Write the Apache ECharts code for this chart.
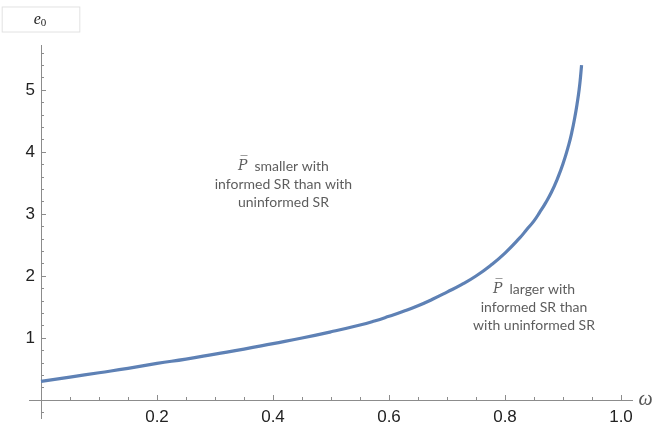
<!DOCTYPE html>
<html>
<head>
<meta charset="utf-8">
<script src="https://cdn.jsdelivr.net/npm/echarts@6/dist/echarts.min.js"></script>
<style>
html,body{margin:0;padding:0;background:#fff;}
#chart{width:662px;height:423px;}
</style>
</head>
<body>
<div id="chart"></div>
<script>
// ω values and e0 curve
const omega = [0,0.05,0.1,0.15,0.2,0.25,0.3,0.35,0.4,0.45,0.5,0.55,0.575,0.6,0.625,0.65,0.675,0.7,0.725,0.75,0.775,0.8,0.825,0.8375,0.85,0.86,0.87,0.88,0.89,0.9,0.91,0.915,0.92,0.925,0.928,0.93,0.932];
const e0 = [0.30,0.37,0.44,0.51,0.59,0.66,0.74,0.82,0.91,1.00,1.10,1.21,1.275,1.35,1.43,1.52,1.625,1.74,1.86,2.00,2.17,2.37,2.61,2.75,2.89,3.03,3.18,3.35,3.56,3.81,4.12,4.31,4.54,4.82,5.02,5.19,5.40];

const xMajorTicks = [0.2,0.4,0.6,0.8,1.0];
const xMinorTicks = [0.05,0.1,0.15,0.25,0.3,0.35,0.45,0.5,0.55,0.65,0.7,0.75,0.85,0.9,0.95];
const yMajorTicks = [1,2,3,4,5];
const yMinorTicks = [-0.2,0.2,0.4,0.6,0.8,1.2,1.4,1.6,1.8,2.2,2.4,2.6,2.8,3.2,3.4,3.6,3.8,4.2,4.4,4.6,4.8,5.2,5.4,5.6];

const annotationText1 = ['{p|P\u0305}  smaller with', 'informed SR than with', 'uninformed SR'];
const annotationText2 = ['{p|P\u0305}  larger with', 'informed SR than', 'with uninformed SR'];
const annotationPos1 = [0.418, 3.48];
const annotationPos2 = [0.85, 1.5];

const X_MIN = -0.02, X_MAX = 1.02, Y_MIN = -0.3, Y_MAX = 5.72;
const axisColor = '#8c8c8c';
const chart = echarts.init(document.getElementById('chart'));

const annLabel = {
  show: true,
  position: 'inside',
  fontFamily: 'Lato',
  fontSize: 14,
  color: '#333',
  lineHeight: 18,
  align: 'center',
  verticalAlign: 'middle',
  rich: {
    p: {fontFamily: 'DejaVu Serif', fontStyle: 'italic', fontSize: 14, color: '#333', lineHeight: 18}
  }
};

chart.setOption({
  animation: false,
  grid: [
    // main plotting area: axes cross at the origin
    {left: 29.4, top: 45.4, width: 603.2, height: 373.2, containLabel: false, outerBoundsMode: 'none'},
    // label grid: its left/bottom edges sit on the origin lines so labels hug the axes
    {left: 41, top: 45.4, width: 591.6, height: 354.6, containLabel: false, outerBoundsMode: 'none'}
  ],
  xAxis: [
    {
      gridIndex: 0, type: 'value', min: X_MIN, max: X_MAX, position: 'bottom',
      name: 'ω', nameLocation: 'end', nameGap: 6,
      nameTextStyle: {fontFamily: 'Liberation Serif', fontStyle: 'italic', fontSize: 20, color: '#555', verticalAlign: 'middle', padding: [6,0,0,0]},
      axisLine: {show: true, onZero: true, onZeroAxisIndex: 0, lineStyle: {color: axisColor, width: 1}},
      axisTick: {show: true, inside: true, length: 5, customValues: xMajorTicks, lineStyle: {color: axisColor}},
      axisLabel: {show: false},
      splitLine: {show: false}
    },
    {
      gridIndex: 0, type: 'value', min: X_MIN, max: X_MAX, position: 'bottom',
      axisLine: {show: false, onZero: true, onZeroAxisIndex: 0},
      axisTick: {show: true, inside: true, length: 3, customValues: xMinorTicks, lineStyle: {color: axisColor}},
      axisLabel: {show: false},
      splitLine: {show: false}
    },
    {
      gridIndex: 1, type: 'value', min: 0, max: X_MAX, position: 'bottom',
      axisLine: {show: false, onZero: false},
      axisTick: {show: false},
      axisLabel: {show: true, customValues: xMajorTicks, formatter: v => v.toFixed(1), fontFamily: 'Liberation Sans', fontSize: 17, color: '#222', margin: 9, hideOverlap: false},
      splitLine: {show: false}
    }
  ],
  yAxis: [
    {
      gridIndex: 0, type: 'value', min: Y_MIN, max: Y_MAX, position: 'left',
      name: '{e|e}{s|0}', nameLocation: 'end', nameGap: 14,
      nameTextStyle: {
        borderColor: '#e2e2e2', borderWidth: 1, padding: [3, 33, 3, 31], backgroundColor: '#fff',
        rich: {
          e: {fontFamily: 'Liberation Serif', fontStyle: 'italic', fontSize: 16, color: '#222', lineHeight: 18},
          s: {fontFamily: 'Liberation Serif', fontSize: 11, color: '#222', verticalAlign: 'bottom', lineHeight: 12, padding: [6,0,0,0]}
        }
      },
      axisLine: {show: true, onZero: true, onZeroAxisIndex: 0, lineStyle: {color: axisColor, width: 1}},
      axisTick: {show: true, inside: true, length: 5, customValues: yMajorTicks, lineStyle: {color: axisColor}},
      axisLabel: {show: false},
      splitLine: {show: false}
    },
    {
      gridIndex: 0, type: 'value', min: Y_MIN, max: Y_MAX, position: 'left',
      axisLine: {show: false, onZero: true, onZeroAxisIndex: 0},
      axisTick: {show: true, inside: true, length: 3, customValues: yMinorTicks, lineStyle: {color: axisColor}},
      axisLabel: {show: false},
      splitLine: {show: false}
    },
    {
      gridIndex: 1, type: 'value', min: 0, max: Y_MAX, position: 'left',
      axisLine: {show: false, onZero: false},
      axisTick: {show: false},
      axisLabel: {show: true, customValues: yMajorTicks, fontFamily: 'Liberation Sans', fontSize: 17, color: '#222', margin: 6},
      splitLine: {show: false}
    }
  ],
  series: [
    {
      type: 'line', xAxisIndex: 0, yAxisIndex: 0,
      data: omega.map((w, i) => [w, e0[i]]),
      smooth: true, showSymbol: false, symbol: 'none',
      lineStyle: {color: '#5E81B5', width: 3.2},
      z: 3
    },
    {
      type: 'scatter', xAxisIndex: 0, yAxisIndex: 0, symbolSize: 1,
      itemStyle: {color: 'rgba(0,0,0,0)'},
      data: [
        {value: annotationPos1, label: Object.assign({}, annLabel, {formatter: annotationText1.join('\n')})},
        {value: annotationPos2, label: Object.assign({}, annLabel, {formatter: annotationText2.join('\n')})}
      ],
      z: 4
    }
  ]
});
</script>
</body>
</html>
